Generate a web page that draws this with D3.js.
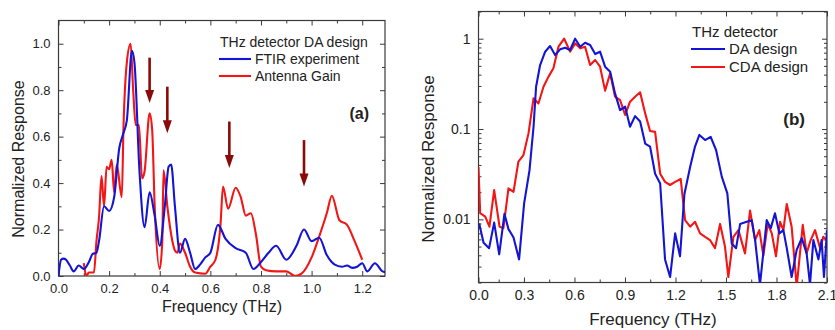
<!DOCTYPE html>
<html>
<head>
<meta charset="utf-8">
<script src="https://cdn.jsdelivr.net/npm/d3@7"></script>
<style>
  body { margin: 0; background: #fff; }
  svg { display: block; font-family: "Liberation Sans", Arial, sans-serif; }
</style>
</head>
<body>
<svg id="chart" width="835" height="330"></svg>
<script>
// ---- panel (a): THz detector DA design, linear scale
const ftirFreq = [0, 0.01, 0.02, 0.03, 0.045, 0.06, 0.08, 0.1, 0.12, 0.135, 0.15, 0.16, 0.18, 0.2, 0.22, 0.24, 0.255, 0.27, 0.29, 0.3, 0.32, 0.34, 0.36, 0.38, 0.4, 0.42, 0.435, 0.445, 0.46, 0.48, 0.5, 0.52, 0.54, 0.56, 0.58, 0.6, 0.63, 0.66, 0.7, 0.74, 0.77, 0.8, 0.83, 0.86, 0.9, 0.94, 0.97, 1.0, 1.03, 1.06, 1.09, 1.12, 1.14, 1.16, 1.18, 1.2, 1.22, 1.25, 1.28, 1.3];
const ftirResp = [0.0, 0.07, 0.075, 0.07, 0.045, 0.02, 0.045, 0.03, 0.06, 0.095, 0.1, 0.15, 0.3, 0.28, 0.34, 0.55, 0.61, 0.67, 0.97, 0.92, 0.45, 0.21, 0.36, 0.26, 0.13, 0.3, 0.47, 0.48, 0.3, 0.1, 0.16, 0.1, 0.03, 0.05, 0.08, 0.1, 0.22, 0.16, 0.12, 0.1, 0.03, 0.06, 0.1, 0.13, 0.07, 0.13, 0.2, 0.15, 0.165, 0.09, 0.05, 0.04, 0.045, 0.035, 0.04, 0.055, 0.02, 0.055, 0.02, 0.015];

const gainFreq = [0.1, 0.11, 0.12, 0.14, 0.15, 0.16, 0.17, 0.18, 0.19, 0.2, 0.21, 0.22, 0.23, 0.25, 0.257, 0.27, 0.285, 0.295, 0.305, 0.318, 0.33, 0.34, 0.36, 0.37, 0.38, 0.4, 0.41, 0.415, 0.43, 0.45, 0.46, 0.47, 0.48, 0.5, 0.52, 0.54, 0.58, 0.6, 0.62, 0.64, 0.65, 0.67, 0.7, 0.72, 0.74, 0.76, 0.78, 0.8, 0.82, 0.86, 0.9, 0.935, 0.96, 1.0, 1.03, 1.06, 1.08, 1.11, 1.14, 1.17, 1.2];
const gainResp = [0.055, 0.0, 0.015, 0.015, 0.15, 0.25, 0.43, 0.3, 0.47, 0.46, 0.5, 0.36, 0.48, 0.34, 0.65, 0.92, 1.0, 0.8, 0.65, 0.65, 0.42, 0.45, 0.7, 0.63, 0.3, 0.03, 0.15, 0.455, 0.3, 0.15, 0.11, 0.1, 0.14, 0.1, 0.04, 0.015, 0.01, 0.04, 0.07, 0.22, 0.385, 0.29, 0.38, 0.34, 0.26, 0.27, 0.18, 0.04, 0.025, 0.02, 0.02, 0.0, 0.01, 0.08, 0.17, 0.27, 0.345, 0.24, 0.22, 0.15, 0.07];

// arrows marking resonances: frequency, tail level, tip level
const arrowFreq = [0.36, 0.43, 0.675, 0.97];
const arrowTail = [0.94, 0.815, 0.665, 0.585];
const arrowTip = [0.745, 0.615, 0.465, 0.385];

const aXTicks = [0, 0.2, 0.4, 0.6, 0.8, 1.0, 1.2];
const aXMinor = [0.1, 0.3, 0.5, 0.7, 0.9, 1.1];
const aYTicks = [0, 0.2, 0.4, 0.6, 0.8, 1.0];
const aYMinor = [0.1, 0.3, 0.5, 0.7, 0.9];

// ---- panel (b): DA vs CDA design, log scale
const daFreq = [0.034, 0.06, 0.093, 0.123, 0.153, 0.184, 0.208, 0.238, 0.271, 0.301, 0.333, 0.357, 0.372, 0.396, 0.426, 0.455, 0.485, 0.515, 0.545, 0.574, 0.604, 0.634, 0.663, 0.693, 0.723, 0.752, 0.782, 0.812, 0.841, 0.871, 0.901, 0.93, 0.96, 0.99, 1.02, 1.049, 1.079, 1.109, 1.138, 1.168, 1.198, 1.227, 1.253, 1.287, 1.316, 1.342, 1.376, 1.409, 1.441, 1.475, 1.508, 1.534, 1.56, 1.584, 1.623, 1.653, 1.673, 1.702, 1.742, 1.766, 1.791, 1.817, 1.841, 1.861, 1.89, 1.92, 1.95, 1.979, 1.999, 2.019, 2.049, 2.068, 2.082, 2.102];
const daResp = [0.009, 0.0055, 0.0048, 0.0092, 0.0041, 0.0115, 0.0078, 0.0063, 0.0036, 0.015, 0.035, 0.106, 0.294, 0.511, 0.718, 0.829, 0.659, 0.762, 0.795, 0.749, 1.0, 0.815, 0.903, 0.851, 0.676, 0.718, 0.49, 0.431, 0.248, 0.162, 0.177, 0.106, 0.139, 0.121, 0.069, 0.064, 0.032, 0.025, 0.0036, 0.0023, 0.007, 0.0039, 0.019, 0.038, 0.064, 0.086, 0.0755, 0.082, 0.0586, 0.0297, 0.0194, 0.0054, 0.0048, 0.0089, 0.0094, 0.0098, 0.0059, 0.0019, 0.0098, 0.008, 0.0117, 0.007, 0.0076, 0.0048, 0.0023, 0.0046, 0.0062, 0.0042, 0.0019, 0.0059, 0.0036, 0.0059, 0.0023, 0.0076];

const cdaFreq = [0.03, 0.04, 0.07, 0.095, 0.123, 0.155, 0.178, 0.208, 0.238, 0.267, 0.297, 0.327, 0.357, 0.386, 0.416, 0.446, 0.475, 0.505, 0.539, 0.574, 0.604, 0.634, 0.663, 0.693, 0.723, 0.752, 0.782, 0.812, 0.841, 0.871, 0.901, 0.93, 0.96, 0.99, 1.02, 1.049, 1.079, 1.109, 1.138, 1.168, 1.198, 1.231, 1.257, 1.287, 1.316, 1.346, 1.376, 1.405, 1.435, 1.465, 1.494, 1.514, 1.544, 1.574, 1.613, 1.643, 1.673, 1.698, 1.722, 1.748, 1.772, 1.797, 1.821, 1.841, 1.861, 1.89, 1.92, 1.956, 1.979, 2.003, 2.029, 2.059, 2.078, 2.102];
const cdaResp = [0.038, 0.0117, 0.0107, 0.0083, 0.0211, 0.0083, 0.008, 0.022, 0.0202, 0.0435, 0.0515, 0.0895, 0.219, 0.192, 0.294, 0.38, 0.47, 0.815, 1.0, 0.718, 0.888, 0.782, 0.815, 0.511, 0.581, 0.49, 0.266, 0.413, 0.228, 0.209, 0.143, 0.201, 0.228, 0.255, 0.149, 0.095, 0.093, 0.032, 0.026, 0.024, 0.026, 0.028, 0.0098, 0.0083, 0.0094, 0.007, 0.0064, 0.0059, 0.0048, 0.0089, 0.005, 0.0023, 0.0064, 0.0076, 0.0042, 0.0125, 0.0059, 0.0076, 0.004, 0.009, 0.007, 0.0039, 0.0094, 0.0076, 0.0148, 0.0083, 0.0018, 0.0087, 0.0042, 0.0059, 0.0076, 0.0048, 0.0064, 0.0059];

const bXTicks = [0, 0.3, 0.6, 0.9, 1.2, 1.5, 1.8, 2.1];
const bXMinor = [0.15, 0.45, 0.75, 1.05, 1.35, 1.65, 1.95];
const bYTicks = [0.01, 0.1, 1];
const bYMinor = [0.002, 0.003, 0.004, 0.005, 0.006, 0.007, 0.008, 0.009, 0.02, 0.03, 0.04, 0.05, 0.06, 0.07, 0.08, 0.09, 0.2, 0.3, 0.4, 0.5, 0.6, 0.7, 0.8, 0.9, 2];

const blue = "#1414d4", red = "#f21616", ink = "#222", frameCol = "#3a3a3a";

const svg = d3.select("#chart");

// scales
const xa = d3.scaleLinear().domain([0, 1.29]).range([58.5, 385]);
const ya = d3.scaleLinear().domain([0, 1.1]).range([276, 20.5]);
const xb = d3.scaleLinear().domain([0.03, 2.1]).range([478.5, 827]).clamp(true);
const yb = d3.scaleLog().domain([0.002, 2]).range([282.5, 11.5]);

function drawFrame(id, x, y, xt, xm, yt, ym, xfmt, yfmt, fs) {
  const [x0, x1] = x.range(), [y0, y1] = y.range();
  const g = svg.append("g");
  const axes = [
    [d3.axisBottom(x).tickValues(xt).tickSize(-5).tickPadding(8).tickFormat(xfmt), `translate(0,${y0})`],
    [d3.axisBottom(x).tickValues(xm).tickSize(-3).tickFormat(""), `translate(0,${y0})`],
    [d3.axisTop(x).tickValues(xt).tickSize(-5).tickFormat(""), `translate(0,${y1})`],
    [d3.axisTop(x).tickValues(xm).tickSize(-3).tickFormat(""), `translate(0,${y1})`],
    [d3.axisLeft(y).tickValues(yt).tickSize(-5).tickPadding(8).tickFormat(yfmt), `translate(${x0},0)`],
    [d3.axisLeft(y).tickValues(ym).tickSize(-3).tickFormat(""), `translate(${x0},0)`],
    [d3.axisRight(y).tickValues(yt).tickSize(-5).tickFormat(""), `translate(${x1},0)`],
    [d3.axisRight(y).tickValues(ym).tickSize(-3).tickFormat(""), `translate(${x1},0)`]
  ];
  axes.forEach(([ax, tr]) => {
    const a = g.append("g").attr("transform", tr).call(ax);
    a.select(".domain").remove();
    a.selectAll("line").attr("stroke", frameCol);
    a.selectAll("text").attr("fill", ink).style("font-size", fs + "px");
  });
  g.append("rect")
    .attr("x", x0).attr("y", y1).attr("width", x1 - x0).attr("height", y0 - y1)
    .attr("fill", "none").attr("stroke", frameCol).attr("stroke-width", 1.2);

  svg.append("clipPath").attr("id", id)
    .append("rect").attr("x", x0).attr("y", y1).attr("width", x1 - x0).attr("height", y0 - y1);
}

drawFrame("clipA", xa, ya, aXTicks, aXMinor, aYTicks, aYMinor, d3.format(".1f"), d3.format(".1f"), 13);
drawFrame("clipB", xb, yb, bXTicks, bXMinor, bYTicks, bYMinor, d3.format(".1f"), d3.format("~g"), 14);

// lines
function drawLine(x, y, fr, vals, color, clip, curve) {
  const pts = fr.map((f, i) => [f, vals[i]]);
  svg.append("path").datum(pts)
    .attr("clip-path", `url(#${clip})`)
    .attr("fill", "none").attr("stroke", color).attr("stroke-width", 2.1)
    .attr("stroke-linejoin", "round")
    .attr("d", d3.line().x(d => x(d[0])).y(d => y(d[1])).curve(curve));
}
drawLine(xa, ya, gainFreq, gainResp, red, "clipA", d3.curveMonotoneX);
drawLine(xa, ya, ftirFreq, ftirResp, blue, "clipA", d3.curveMonotoneX);
drawLine(xb, yb, cdaFreq, cdaResp, red, "clipB", d3.curveLinear);
drawLine(xb, yb, daFreq, daResp, blue, "clipB", d3.curveLinear);

// arrows
const arrowCol = "#8a0a0a";
arrowFreq.forEach((f, i) => {
  const ax = xa(f), yT = ya(arrowTail[i]), yP = ya(arrowTip[i]);
  svg.append("line").attr("x1", ax).attr("x2", ax).attr("y1", yT).attr("y2", yP - 10)
    .attr("stroke", arrowCol).attr("stroke-width", 2.6);
  svg.append("path")
    .attr("d", `M${ax - 4.5},${yP - 13} L${ax + 4.5},${yP - 13} L${ax},${yP} Z`)
    .attr("fill", arrowCol);
});

// axis titles
svg.append("text").attr("x", 222).attr("y", 312).attr("text-anchor", "middle")
  .attr("fill", ink).style("font-size", "16px").text("Frequency (THz)");
svg.append("text").attr("transform", "translate(24,159) rotate(-90)").attr("text-anchor", "middle")
  .attr("fill", ink).style("font-size", "16px").text("Normalized Response");
svg.append("text").attr("x", 653).attr("y", 325).attr("text-anchor", "middle")
  .attr("fill", ink).style("font-size", "17px").text("Frequency (THz)");
svg.append("text").attr("transform", "translate(434,159) rotate(-90)").attr("text-anchor", "middle")
  .attr("fill", ink).style("font-size", "17px").text("Normalized Response");

// legends
function legend(x, y, title, names, colors, fs, lineLen, gap) {
  svg.append("text").attr("x", x + 1).attr("y", y).attr("fill", ink)
    .style("font-size", fs + "px").text(title);
  names.forEach((n, i) => {
    const ly = y + 12 + i * gap;
    svg.append("line").attr("x1", x).attr("x2", x + lineLen).attr("y1", ly).attr("y2", ly)
      .attr("stroke", colors[i]).attr("stroke-width", 2.1);
    svg.append("text").attr("x", x + lineLen + 4).attr("y", ly + 5).attr("fill", ink)
      .style("font-size", fs + "px").text(n);
  });
}
legend(219, 47, "THz detector DA design", ["FTIR experiment", "Antenna Gain"], [blue, red], 14, 32, 17);
legend(691, 37, "THz detector", ["DA design", "CDA design"], [blue, red], 15, 34, 18);

svg.append("text").attr("x", 369).attr("y", 119).attr("text-anchor", "end")
  .attr("fill", ink).style("font-size", "16px").style("font-weight", "bold").text("(a)");
svg.append("text").attr("x", 805).attr("y", 125).attr("text-anchor", "end")
  .attr("fill", ink).style("font-size", "17px").style("font-weight", "bold").text("(b)");
</script>
</body>
</html>
